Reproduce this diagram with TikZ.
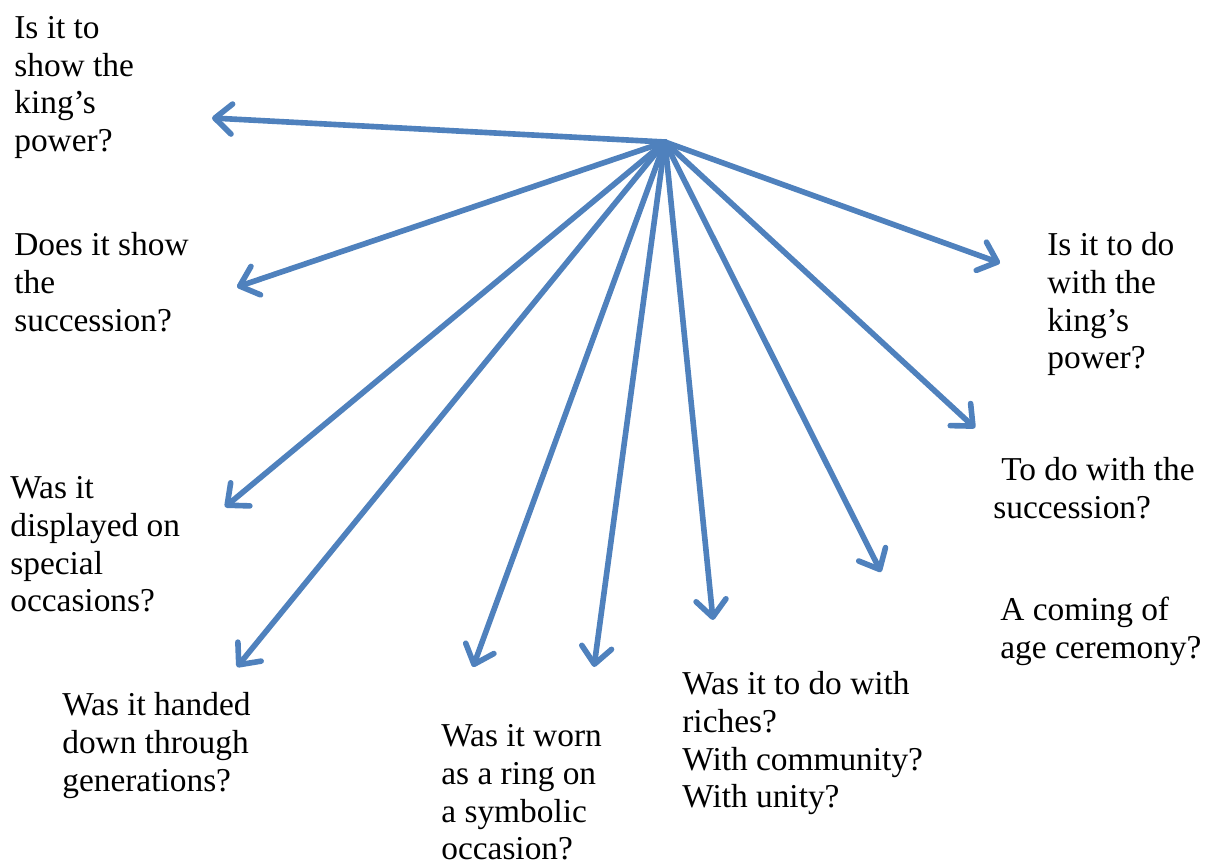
\documentclass[tikz,border=0pt]{standalone}
\usepackage{fontspec}
\setmainfont{Liberation Serif}
\usepackage{xcolor}
\definecolor{qblue}{RGB}{79, 129, 189}
\usepackage{tikz}
\usetikzlibrary{arrows.meta}

\tikzset{
  qtext/.style={font=\fontsize{19}{21.5}\selectfont, align=left,
                anchor=north west, inner sep=0pt},
  qarrow/.style={draw=qblue, line width=3.2pt, line cap=round,
                 -{Straight Barb[length=0.34cm, width=0.6cm, round]}}
}

\begin{document}
\begin{tikzpicture}[x=0.02cm, y=-0.02cm]
      \useasboundingbox (0,0) rectangle (1213,864);

      % questions round the hub
      \node[qtext] (power) at (14,16)
            {Is it to\\show the\\king’s\\power?};
      \node[qtext] (succ) at (14,232)
            {Does it show\\the\\succession?};
      \node[qtext] (display) at (10,476)
            {Was it\\displayed on\\special\\occasions?};
      \node[qtext] (handed) at (62,692)
            {Was it handed\\down through\\generations?};
      \node[qtext] (ring) at (441,724)
            {Was it worn\\as a ring on\\a symbolic\\occasion?};
      \node[qtext] (riches) at (682,671)
            {Was it to do with\\riches?\\With community?\\With unity?};
      \node[qtext] (kingpow) at (1047,232)
            {Is it to do\\with the\\king’s\\power?};
      \node[qtext] (todo) at (993,457)
            {\hspace{0.16cm}To do with the\\succession?};
      \node[qtext] (coming) at (1000,597)
            {A coming of\\age ceremony?};

      % arrow tips
      \coordinate (hub) at (665,142);
      \coordinate (tpower) at (212,118);
      \coordinate (tsucc) at (237,287);
      \coordinate (tdisplay) at (225,507);
      \coordinate (thanded) at (237,667);
      \coordinate (tring) at (473,667);
      \coordinate (tring2) at (594,667);
      \coordinate (triches) at (713,620);
      \coordinate (tcoming) at (881,572);
      \coordinate (ttodo) at (975,428);
      \coordinate (tkingpow) at (1000,263);

      \draw[qarrow] (hub) -- (tpower);
      \draw[qarrow] (hub) -- (tsucc);
      \draw[qarrow] (hub) -- (tdisplay);
      \draw[qarrow] (hub) -- (thanded);
      \draw[qarrow] (hub) -- (tring);
      \draw[qarrow] (hub) -- (tring2);
      \draw[qarrow] (hub) -- (triches);
      \draw[qarrow] (hub) -- (tcoming);
      \draw[qarrow] (hub) -- (ttodo);
      \draw[qarrow] (hub) -- (tkingpow);
\end{tikzpicture}
\end{document}
